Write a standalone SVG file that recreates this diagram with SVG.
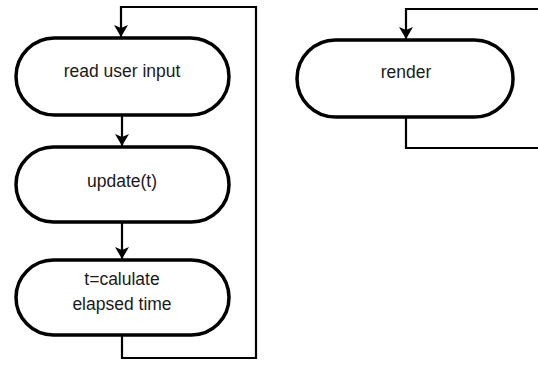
<svg xmlns="http://www.w3.org/2000/svg" width="538" height="369" viewBox="0 0 538 369">
<style>
.node{fill:#fff;stroke:#000;stroke-width:3.5}
.lbl{font-family:"Liberation Sans",Arial,sans-serif;font-size:17.5px;fill:#1a1a1a;text-anchor:middle}
.edge{fill:none;stroke:#000;stroke-width:2.2}
</style>
<defs>
<marker id="arr" viewBox="0 0 12 14" refX="12" refY="7" markerWidth="12" markerHeight="14" markerUnits="userSpaceOnUse" orient="auto">
<path d="M0,0 L12,7 L0,14 L3,7 Z" fill="#000"/>
</marker>
</defs>
<g id="connectors">
<path class="edge" d="M122,335 V358 H256 V7 H121 V37" marker-end="url(#arr)"/>
<path class="edge" d="M122,115 V146" marker-end="url(#arr)"/>
<path class="edge" d="M122,222 V259" marker-end="url(#arr)"/>
<path class="edge" d="M540,9 H406 V39" marker-end="url(#arr)"/>
<path class="edge" d="M406,117 V148 H540"/>
</g>
<g id="read-input">
<rect class="node" x="16" y="38" width="213" height="77" rx="38.5"/>
<text class="lbl" x="122" y="77">read user input</text>
</g>
<g id="update">
<rect class="node" x="16" y="147" width="213" height="75" rx="37.5"/>
<text class="lbl" x="122" y="187">update(t)</text>
</g>
<g id="calc-time">
<rect class="node" x="16" y="260" width="213" height="75" rx="37.5"/>
<text class="lbl" x="122" y="285">t=calulate</text>
<text class="lbl" x="122" y="310">elapsed time</text>
</g>
<g id="render">
<rect class="node" x="297" y="40" width="216" height="77" rx="38.5"/>
<text class="lbl" x="406" y="78">render</text>
</g>
</svg>
